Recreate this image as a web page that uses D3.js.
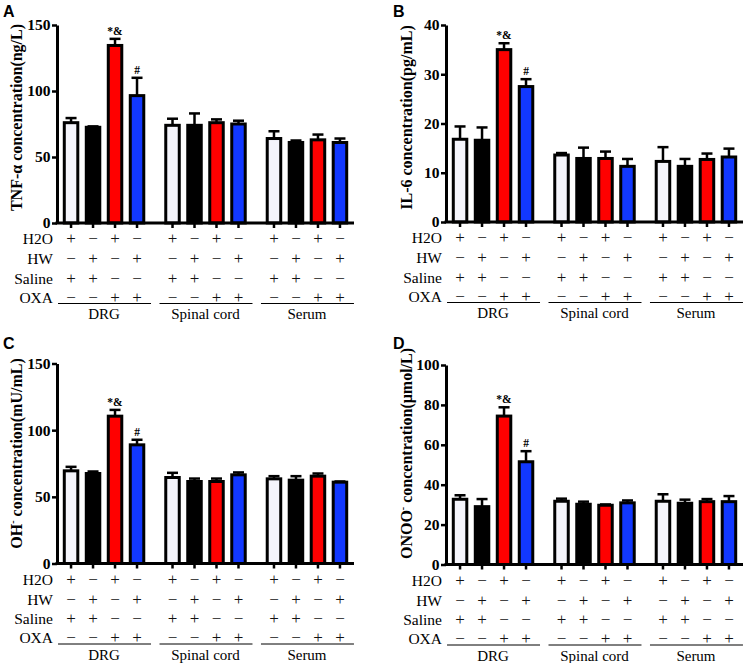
<!DOCTYPE html>
<html>
<head>
<meta charset="utf-8">
<script src="https://cdn.jsdelivr.net/npm/d3@7"></script>
<style>
  html, body { margin: 0; padding: 0; background: #fff; }
  svg { display: block; }
</style>
</head>
<body>
<svg id="chart" width="752" height="663"></svg>
<script>
// ---------------- DATA ----------------
const groups = ["DRG", "Spinal cord", "Serum"];
const conditions = ["H2O+Saline", "HW+Saline", "H2O+OXA", "HW+OXA"];
const rowLabels = ["H2O", "HW", "Saline", "OXA"];
const rowSigns = [
  ["+", "−", "+", "−"],
  ["−", "+", "−", "+"],
  ["+", "+", "−", "−"],
  ["−", "−", "+", "+"]
];
const barColors = ["#f4f4fb", "#000000", "#ff0000", "#1238ff"];

// values ordered: DRG(4), Spinal cord(4), Serum(4)
const tnfMean = [76, 72.5, 134.5, 96.5, 74, 74, 76, 75, 64, 61, 63, 61];
const tnfErr  = [3.5, 0.7, 5, 13.5, 5, 9, 2.5, 2.5, 5.5, 1.5, 4, 3];
const tnfTicks = [0, 50, 100, 150];

const il6Mean = [16.8, 16.6, 35, 27.5, 13.6, 12.9, 12.9, 11.3, 12.3, 11.3, 12.7, 13.2];
const il6Err  = [2.6, 2.6, 1.3, 1.5, 0.4, 2.2, 1.4, 1.5, 2.9, 1.5, 1.2, 1.7];
const il6Ticks = [0, 10, 20, 30, 40];

const ohMean = [69.5, 67.5, 110.5, 89, 64.5, 61.5, 61.5, 66.5, 63.5, 62.5, 65.5, 61];
const ohErr  = [3, 1.5, 4.7, 3.8, 3.5, 2.2, 2.2, 1.8, 2, 3, 2, 0.5];
const ohTicks = [0, 50, 100, 150];

const onooMean = [32.7, 29, 74.4, 51.5, 31.7, 30.2, 29.7, 30.9, 31.7, 30.7, 31.5, 31.5];
const onooErr  = [2, 3.8, 4.4, 5.3, 1.3, 1.3, 0.4, 1.2, 3.5, 1.8, 1.3, 2.8];
const onooTicks = [0, 20, 40, 60, 80, 100];

const sigLabels = ["", "", "*&", "#", "", "", "", "", "", "", "", ""];

// ---------------- LAYOUT ----------------
const SERIF = '"Liberation Serif", "Times New Roman", serif';
const SANS = '"Liberation Sans", Arial, sans-serif';
const W = 297;

const panels = [
  { letter: "A", mean: tnfMean, err: tnfErr, ticks: tnfTicks,
    title: [["TNF-α concentration(ng/L)", false]],
    ax: 57, top: 25, bottom: 223, lx: 3, ly: 17, tx: 22, ty: 117.5 },
  { letter: "B", mean: il6Mean, err: il6Err, ticks: il6Ticks,
    title: [["IL-6 concentration(pg/mL)", false]],
    ax: 446, top: 25, bottom: 222, lx: 393, ly: 17, tx: 412, ty: 117.5 },
  { letter: "C", mean: ohMean, err: ohErr, ticks: ohTicks,
    title: [["OH", false], ["-", true], [" concentration(mU/mL)", false]],
    ax: 57, top: 363.5, bottom: 563.5, lx: 3, ly: 349, tx: 22, ty: 453.5 },
  { letter: "D", mean: onooMean, err: onooErr, ticks: onooTicks,
    title: [["ONOO", false], ["-", true], [" concentration(μmol/L)", false]],
    ax: 446, top: 365, bottom: 564.5, lx: 393, ly: 349, tx: 412, ty: 453.5 }
];

const rowBaselines = [21, 41, 60.5, 79.5];
const lineOffset = 80.5;
const groupLabelOffset = 96;

const svg = d3.select("#chart");

panels.forEach(p => {
  const g = svg.append("g");
  const yMax = p.ticks[p.ticks.length - 1];
  const y = d3.scaleLinear().domain([0, yMax]).range([p.bottom, p.top]);
  const xg = d3.scaleBand().domain(groups).range([p.ax, p.ax + W])
    .paddingInner(0.133).paddingOuter(0.03);
  const xc = d3.scaleBand().domain(conditions).range([0, xg.bandwidth()]).padding(0);
  const cx = (gi, ci) => xg(groups[gi]) + xc(conditions[ci]) + xc.bandwidth() / 2;

  const rows = [];
  groups.forEach((gr, gi) => conditions.forEach((c, ci) => {
    const k = gi * 4 + ci;
    rows.push({ gi, ci, k, v: p.mean[k], e: p.err[k], s: sigLabels[k] });
  }));

  const bw = 13.5;
  const eb = g.append("g").attr("stroke", "#000").attr("stroke-width", 2.5).attr("fill", "none");
  rows.forEach(d => {
    const x = cx(d.gi, d.ci);
    eb.append("line").attr("x1", x).attr("x2", x).attr("y1", y(d.v)).attr("y2", y(d.v + d.e));
    eb.append("line").attr("x1", x - 5.5).attr("x2", x + 5.5).attr("y1", y(d.v + d.e)).attr("y2", y(d.v + d.e));
  });

  g.append("g").selectAll("rect").data(rows).join("rect")
    .attr("x", d => cx(d.gi, d.ci) - bw / 2)
    .attr("width", bw)
    .attr("y", d => y(d.v))
    .attr("height", d => y(0) - y(d.v))
    .attr("fill", d => barColors[d.ci])
    .attr("stroke", "#000")
    .attr("stroke-width", 3);

  g.append("g").selectAll("text").data(rows.filter(d => d.s)).join("text")
    .attr("x", d => cx(d.gi, d.ci))
    .attr("y", d => y(d.v + d.e) - 4)
    .attr("text-anchor", "middle")
    .attr("font-family", SERIF)
    .attr("font-weight", "bold")
    .attr("font-size", 11.5)
    .text(d => d.s);

  const yAxis = g.append("g").attr("transform", `translate(${p.ax},0)`)
    .call(d3.axisLeft(y).tickValues(p.ticks).tickSize(5).tickSizeOuter(0).tickPadding(1.5));
  yAxis.select(".domain").attr("stroke-width", 3);
  yAxis.selectAll(".tick line").attr("stroke-width", 2.5);
  yAxis.selectAll(".tick text")
    .attr("font-family", SERIF).attr("font-weight", "bold").attr("font-size", 15.5)
    .attr("fill", "#000");

  const x0 = p.ax - 1.5, x1 = p.ax + W;
  g.append("line").attr("x1", x0).attr("x2", x1).attr("y1", y(0)).attr("y2", y(0))
    .attr("stroke", "#000").attr("stroke-width", 3);
  rows.forEach(d => {
    const x = cx(d.gi, d.ci);
    g.append("line").attr("x1", x).attr("x2", x).attr("y1", y(0)).attr("y2", y(0) + 5)
      .attr("stroke", "#000").attr("stroke-width", 2.5);
  });

  const zero = y(0);
  rowLabels.forEach((lab, ri) => {
    const yy = zero + rowBaselines[ri];
    g.append("text").attr("x", p.ax - 4).attr("y", yy)
      .attr("text-anchor", "end").attr("font-family", SERIF).attr("font-size", 15.5)
      .text(lab);
    groups.forEach((gr, gi) => conditions.forEach((c, ci) => {
      g.append("text").attr("x", cx(gi, ci)).attr("y", yy)
        .attr("text-anchor", "middle").attr("font-family", SERIF).attr("font-size", 17)
        .attr("fill", "#111")
        .text(rowSigns[ri][ci]);
    }));
  });
  groups.forEach(gr => {
    const gx = xg(gr);
    g.append("line").attr("x1", gx - 2).attr("x2", gx + xg.bandwidth() + 3)
      .attr("y1", zero + lineOffset).attr("y2", zero + lineOffset)
      .attr("stroke", "#000").attr("stroke-width", 1);
    g.append("text").attr("x", gx + xg.bandwidth() / 2).attr("y", zero + groupLabelOffset)
      .attr("text-anchor", "middle").attr("font-family", SERIF).attr("font-size", 15)
      .text(gr);
  });

  const t = g.append("text")
    .attr("transform", `translate(${p.tx},${p.ty}) rotate(-90)`)
    .attr("text-anchor", "middle")
    .attr("font-family", SERIF).attr("font-weight", "bold").attr("font-size", 16);
  p.title.forEach(([s, sup]) => {
    if (sup) {
      t.append("tspan").attr("dy", -6).attr("font-size", 10).text(s);
    } else {
      const ts = t.append("tspan").text(s);
      if (t.selectAll("tspan").size() > 1) ts.attr("dy", 6);
    }
  });

  g.append("text").attr("x", p.lx).attr("y", p.ly)
    .attr("font-family", SANS).attr("font-weight", "bold").attr("font-size", 16)
    .text(p.letter);
});
</script>
</body>
</html>
